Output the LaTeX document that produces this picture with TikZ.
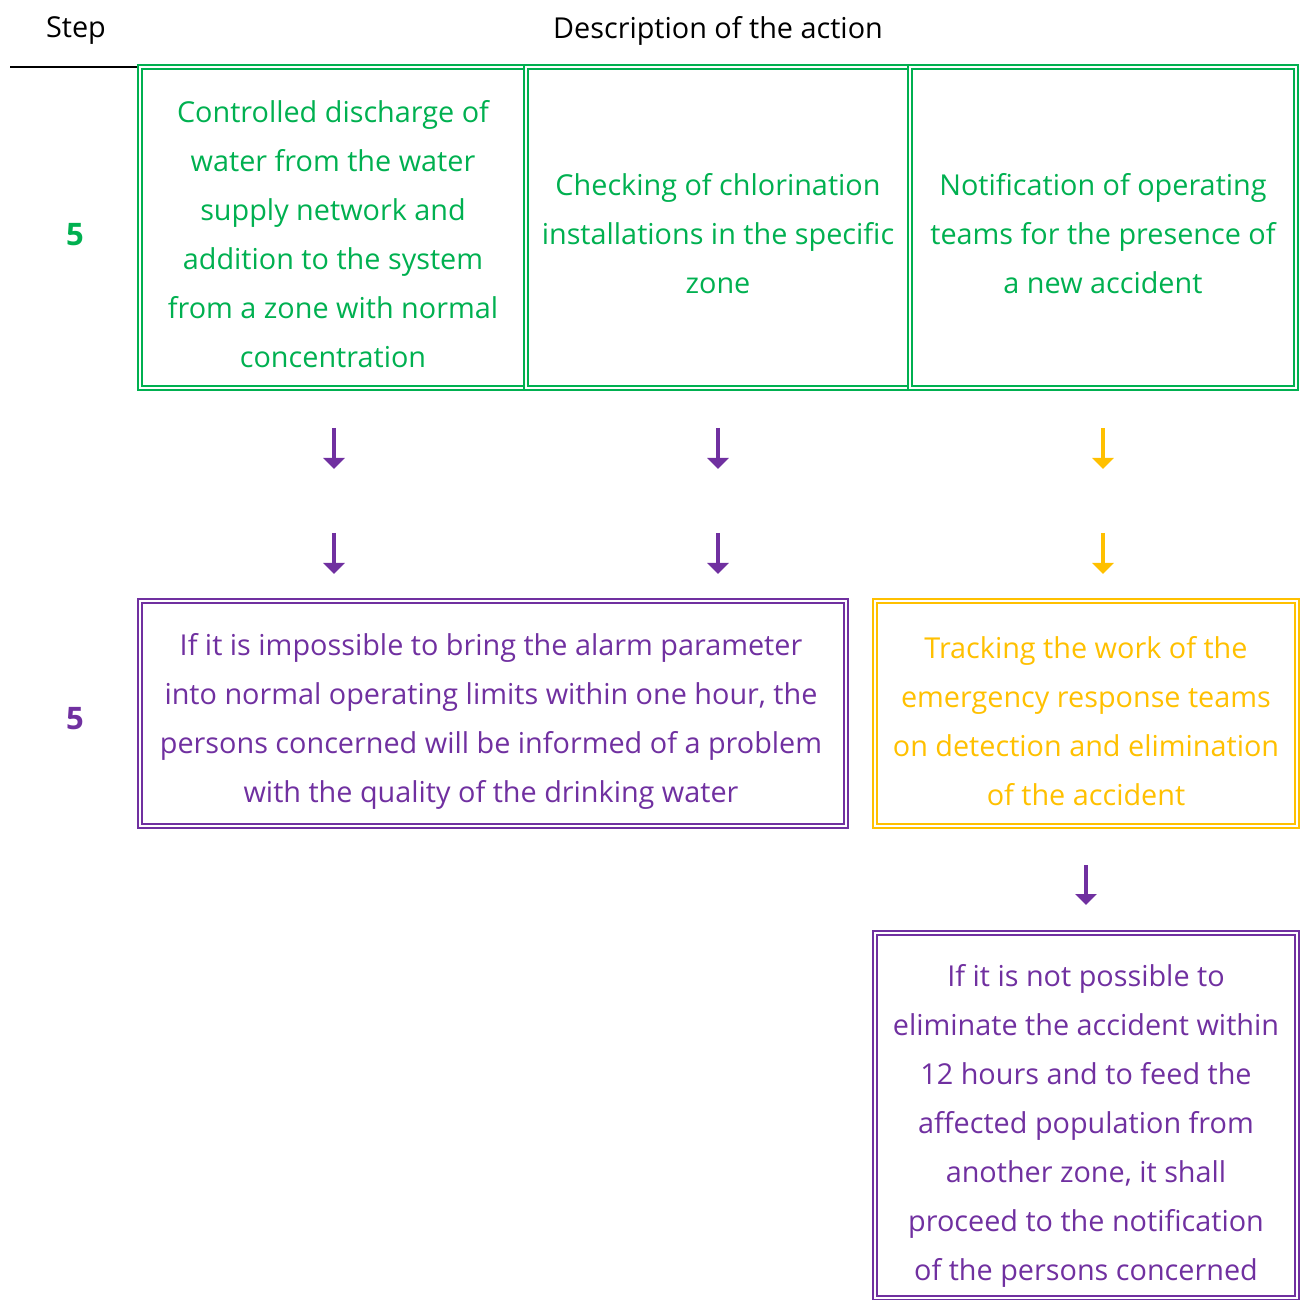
\documentclass[tikz,border=0pt]{standalone}
\usepackage{fontspec}
\setmainfont{Open Sans}
\usetikzlibrary{arrows.meta}

\definecolor{actgreen}{HTML}{00B050}
\definecolor{actpurple}{HTML}{7030A0}
\definecolor{actyellow}{HTML}{FFC000}

\begin{document}
\begin{tikzpicture}[x=0.5pt,y=-0.5pt,
    txt/.style={font=\fontsize{14.4}{24.5}\selectfont, align=center, inner sep=0pt},
    cell/.style={draw=#1, double, double distance=1pt, line width=1pt, inner sep=0pt},
    stepno/.style={font=\fontsize{15.5}{18}\selectfont\bfseries, text=#1},
    down/.style={draw=#1, line width=2.3pt, -{Triangle[width=10.5pt,length=5.5pt]}}]
        \useasboundingbox (0,0) rectangle (1303,1300);

        \node[txt] (step) at (76,31) {Step};
        \node[txt] (desc) at (718,31) {Description of the action};
        \draw[line width=1pt] (10,67) -- (139,67);

        \node[stepno=actgreen] (s1) at (75,235) {5};
        \node[stepno=actpurple] (s2) at (75,719) {5};

        \node[cell=actgreen, minimum width=193pt, minimum height=160.5pt] (discharge) at (332.5,227.5) {};
        \node[cell=actgreen, minimum width=192pt, minimum height=160.5pt] (chlor) at (718,227.5) {};
        \node[cell=actgreen, minimum width=193pt, minimum height=160.5pt] (notify) at (1103,227.5) {};
        \node[cell=actpurple, minimum width=353pt, minimum height=112.5pt] (inform) at (492.5,713.5) {};
        \node[cell=actyellow, minimum width=211pt, minimum height=112.5pt] (track) at (1086,713.5) {};
        \node[cell=actpurple, minimum width=211pt, minimum height=182.5pt] (feed) at (1086,1115.5) {};

        \node[txt, text=actgreen] (discharge-t) at (333,234.5)
            {Controlled discharge of\\ water from the water\\ supply network and\\ addition to the system\\ from a zone with normal\\ concentration};
        \node[txt, text=actgreen] (chlor-t) at (718,234)
            {Checking of chlorination\\ installations in the specific\\ zone};
        \node[txt, text=actgreen] (notify-t) at (1103,234)
            {Notification of operating\\ teams for the presence of\\ a new accident};
        \node[txt, text=actpurple] (inform-t) at (491,721)
            {If it is impossible to bring the alarm parameter\\ into normal operating limits within one hour, the\\ persons concerned will be informed of a problem\\ with the quality of the drinking water};
        \node[txt, text=actyellow] (track-t) at (1086,721)
            {Tracking the work of the\\ emergency response teams\\ on detection and elimination\\ of the accident};
        \node[txt, text=actpurple] (feed-t) at (1086,1126)
            {If it is not possible to\\ eliminate the accident within\\ 12 hours and to feed the\\ affected population from\\ another zone, it shall\\ proceed to the notification\\ of the persons concerned};

        \coordinate (a1) at (334,428);  \coordinate (a1e) at (334,469);
        \coordinate (a2) at (334,533);  \coordinate (a2e) at (334,574);
        \coordinate (b1) at (718,428);  \coordinate (b1e) at (718,469);
        \coordinate (b2) at (718,533);  \coordinate (b2e) at (718,574);
        \coordinate (c1) at (1103,428); \coordinate (c1e) at (1103,469);
        \coordinate (c2) at (1103,533); \coordinate (c2e) at (1103,574);
        \coordinate (d1) at (1086,865); \coordinate (d1e) at (1086,905);

        \draw[down=actpurple] (a1) -- (a1e);
        \draw[down=actpurple] (a2) -- (a2e);
        \draw[down=actpurple] (b1) -- (b1e);
        \draw[down=actpurple] (b2) -- (b2e);
        \draw[down=actyellow] (c1) -- (c1e);
        \draw[down=actyellow] (c2) -- (c2e);
        \draw[down=actpurple] (d1) -- (d1e);
      \end{tikzpicture}
\end{document}
